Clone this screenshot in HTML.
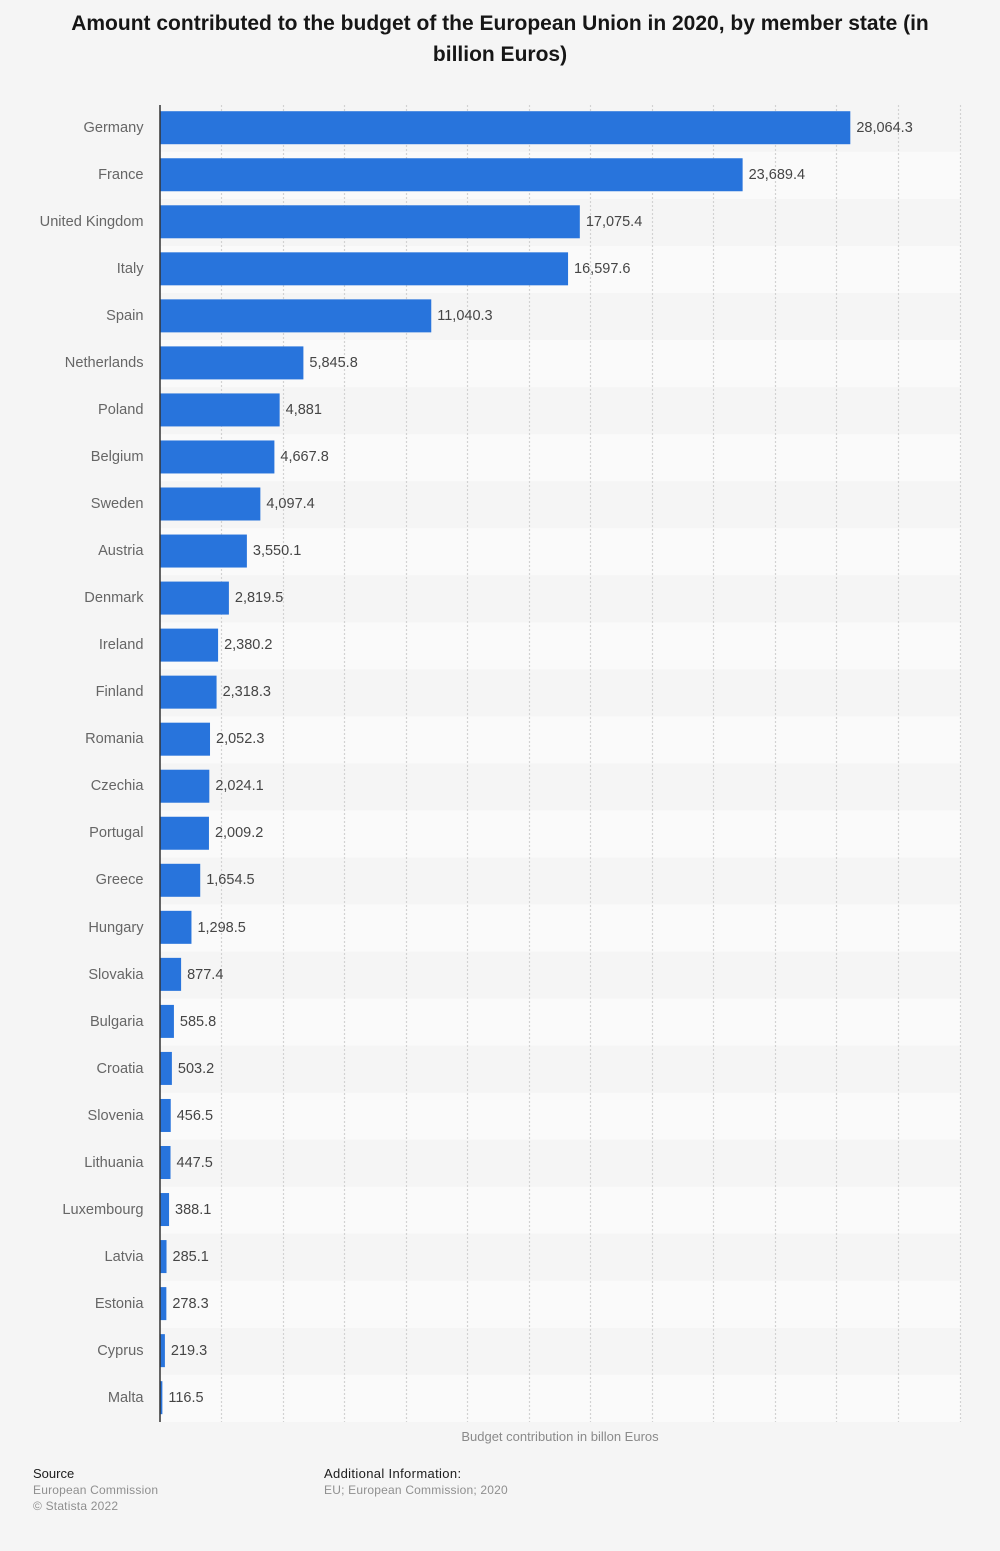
<!DOCTYPE html>
<html lang="en">
<head>
<meta charset="utf-8">
<title>EU budget contributions 2020</title>
<style>
html,body{margin:0;padding:0;background:#f5f5f5;}
body{width:1000px;height:1551px;position:relative;overflow:hidden;font-family:"Liberation Sans",Arial,sans-serif;}
#title{position:absolute;left:60px;width:880px;top:8px;text-align:center;font-size:21px;font-weight:bold;line-height:31px;color:#161616;margin:0;}
#chart{position:absolute;left:0;top:0;}
.foot{position:absolute;font-size:12px;line-height:16px;color:#8f8f8f;letter-spacing:.2px;}
.foot b{display:block;font-weight:normal;color:#1c1c1c;font-size:13px;line-height:17px;}
</style>
</head>
<body>
<h1 id="title">Amount contributed to the budget of the European Union in 2020, by member state (in billion Euros)</h1>
<svg id="chart" width="1000" height="1551" xmlns="http://www.w3.org/2000/svg"></svg>
<div class="foot" style="left:33px;top:1465px"><b style="letter-spacing:0">Source</b><span>European Commission</span><br><span>© Statista 2022</span></div>
<div class="foot" style="left:324px;top:1465px"><b style="letter-spacing:.35px">Additional Information:</b><span>EU; European Commission; 2020</span></div>
<script>
const categories = ["Germany","France","United Kingdom","Italy","Spain","Netherlands","Poland","Belgium","Sweden","Austria","Denmark","Ireland","Finland","Romania","Czechia","Portugal","Greece","Hungary","Slovakia","Bulgaria","Croatia","Slovenia","Lithuania","Luxembourg","Latvia","Estonia","Cyprus","Malta"];
const values = [28064.3,23689.4,17075.4,16597.6,11040.3,5845.8,4881,4667.8,4097.4,3550.1,2819.5,2380.2,2318.3,2052.3,2024.1,2009.2,1654.5,1298.5,877.4,585.8,503.2,456.5,447.5,388.1,285.1,278.3,219.3,116.5];
const gridTicks = [2500,5000,7500,10000,12500,15000,17500,20000,22500,25000,27500,30000,32500];
const axisTitle = "Budget contribution in billon Euros";

const plot = {left:159.5, right:959.5, top:104, bottom:1421, max:32500};
const svg = document.getElementById('chart');
const NS = 'http://www.w3.org/2000/svg';
function x(v){ return plot.left + v / plot.max * (plot.right - plot.left); }
function bandH(){ return (plot.bottom - plot.top) / categories.length; }
function yc(i){ return plot.top + bandH() * (i + 0.5); }
function make(tag, attrs){
  const el = document.createElementNS(NS, tag);
  for (const k in attrs) el.setAttribute(k, attrs[k]);
  svg.appendChild(el);
  return el;
}
function fmt(v){
  const parts = String(v).split('.');
  parts[0] = parts[0].replace(/\B(?=(\d{3})+$)/g, ',');
  return parts.join('.');
}
categories.forEach(function(c, i){
  if (i % 2 === 1) {
    const band = make('rect', {x:160, y:plot.top + 0.9 + bandH()*i, width:801, height:bandH(), fill:'#fafafa'});
    
    
  }
});
gridTicks.forEach(function(t){
  const g = make('line', {x1:Math.round(x(t))+0.5, x2:Math.round(x(t))+0.5, y1:plot.top+1, y2:plot.bottom+1, stroke:'#d2d2d2', 'stroke-width':1.2, 'stroke-dasharray':'2 2'});
  
  
});
categories.forEach(function(c, i){
  const cy = yc(i);
  const bar = make('rect', {x:160, y:cy-16.3, width:x(values[i])-160, height:33, fill:'#2874dc'});
  
  
  const lab = make('text', {x:143.5, y:Math.round(cy+4.4), 'text-anchor':'end', 'font-size':14.6, fill:'#666666'});
  lab.textContent = c;
  
  
  const val = make('text', {x:x(values[i])+6, y:Math.round(cy+4.4), 'font-size':14.5, fill:'#454545'});
  val.textContent = fmt(values[i]);
  
  
});
const axis = make('line', {x1:160, x2:160, y1:plot.top+1, y2:plot.bottom+1, stroke:'#333333', 'stroke-width':1.5});


const at = make('text', {x:560, y:1441, 'text-anchor':'middle', 'font-size':13, fill:'#8a8a8a'});
at.textContent = axisTitle;


</script>
</body>
</html>
